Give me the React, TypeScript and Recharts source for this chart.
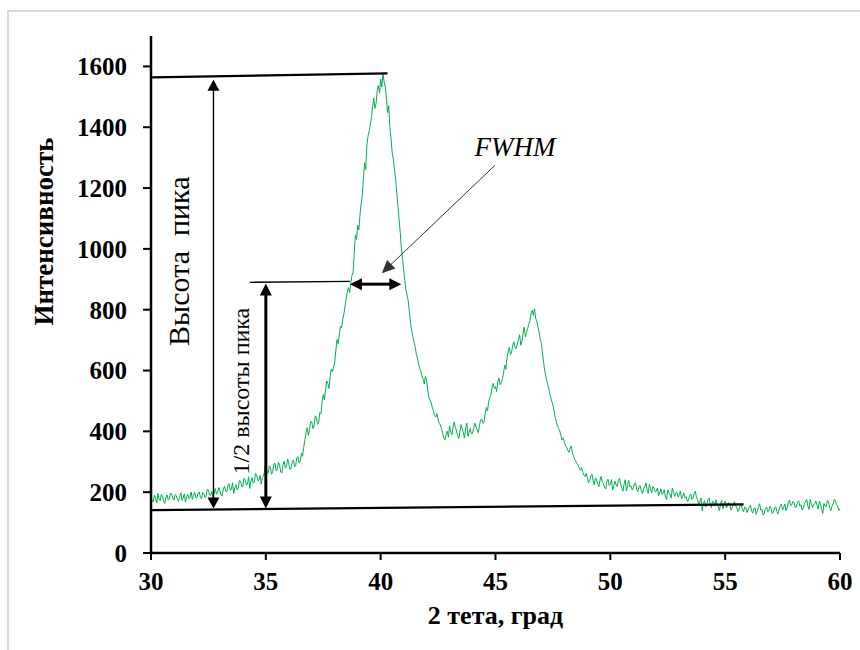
import { LineChart, Line, XAxis, YAxis, ReferenceLine } from 'recharts';

// 2θ grid of the scan (start / step in degrees)
const angleStart = 30;
const angleStep = 0.05;

// intensity, one value per 0.05 degree from 30 to 60
const intensity = [
  185, 172, 168, 190, 182, 165, 196, 178, 172, 193,
  188, 170, 163, 184, 191, 175, 178, 197, 194, 180,
  174, 192, 189, 176, 170, 186, 198, 173, 181, 195,
  167, 184, 193, 179, 184, 201, 176, 190, 199, 182,
  183, 196, 201, 185, 178, 199, 195, 182, 186, 209,
  207, 191, 190, 203, 181, 197, 212, 194, 196, 215,
  204, 190, 188, 211, 219, 203, 201, 222, 228, 206,
  209, 231, 196, 214, 224, 208, 213, 238, 236, 219,
  218, 246, 241, 224, 226, 251, 212, 236, 248, 229,
  233, 262, 257, 238, 239, 255, 226, 248, 252, 271,
  298, 268, 262, 287, 281, 259, 268, 293, 295, 270,
  274, 298, 289, 266, 263, 291, 302, 279, 285, 309,
  293, 274, 278, 301, 306, 283, 288, 314, 317, 296,
  301, 329, 318, 347, 372, 395, 412, 387, 405, 431,
  432, 409, 418, 451, 446, 423, 429, 462, 458, 497,
  521, 503, 537, 566, 558, 541, 579, 605, 596, 612,
  628, 667, 702, 688, 718, 746, 741, 769, 786, 812,
  838, 861, 872, 856, 889, 912, 924, 985, 1046, 1031,
  1078, 1062, 1112, 1148, 1176, 1232, 1283, 1261, 1341, 1372,
  1386, 1410, 1432, 1468, 1496, 1462, 1478, 1521, 1537, 1512,
  1558, 1532, 1576, 1549, 1532, 1496, 1448, 1471, 1402, 1364,
  1318, 1296, 1262, 1231, 1186, 1142, 1098, 1056, 1002, 968,
  931, 897, 864, 848, 829, 792, 758, 731, 712, 694,
  679, 655, 641, 622, 607, 598, 582, 571, 556, 581,
  568, 536, 512, 503, 493, 479, 468, 452, 447, 459,
  438, 426, 421, 407, 394, 378, 372, 389, 401, 381,
  418, 398, 389, 412, 431, 415, 402, 386, 376, 398,
  422, 409, 395, 378, 413, 427, 384, 396, 409, 392,
  393, 412, 427, 414, 405, 396, 418, 437, 441, 426,
  432, 458, 478, 467, 496, 512, 521, 543, 558, 541,
  547, 531, 562, 575, 553, 560, 571, 592, 618, 604,
  642, 661, 676, 652, 661, 683, 694, 676, 672, 688,
  701, 718, 683, 695, 722, 743, 711, 726, 738, 752,
  764, 789, 798, 781, 803, 771, 762, 742, 727, 702,
  688, 655, 624, 597, 576, 561, 548, 529, 512, 498,
  487, 466, 446, 431, 418, 409, 401, 386, 372, 379,
  364, 352, 348, 337, 331, 344, 352, 329, 318, 307,
  301, 294, 289, 278, 272, 281, 265, 256, 251, 262,
  248, 231, 236, 254, 259, 238, 224, 247, 241, 226,
  218, 239, 252, 233, 229, 214, 211, 236, 243, 222,
  226, 241, 208, 219, 237, 224, 219, 238, 246, 227,
  213, 203, 228, 241, 204, 221, 239, 218, 221, 207,
  214, 228, 231, 209, 202, 219, 222, 204, 195, 213,
  217, 231, 209, 196, 226, 211, 198, 219, 213, 201,
  203, 214, 188, 197, 211, 193, 196, 208, 183, 176,
  207, 198, 192, 181, 214, 201, 186, 197, 199, 184,
  191, 204, 178, 186, 198, 181, 185, 170, 172, 189,
  194, 176, 181, 195, 203, 184, 176, 159, 168, 181,
  138, 163, 172, 151, 158, 176, 181, 162, 149, 171,
  167, 154, 175, 161, 153, 139, 164, 172, 145, 158,
  171, 148, 156, 166, 162, 141, 148, 159, 169, 154,
  152, 137, 141, 156, 158, 144, 136, 151, 149, 133,
  143, 151, 157, 139, 131, 146, 148, 127, 139, 153,
  162, 141, 144, 125, 129, 147, 151, 136, 138, 154,
  147, 129, 135, 148, 152, 136, 128, 143, 156, 161,
  142, 150, 161, 139, 149, 166, 174, 155, 158, 170,
  166, 149, 151, 167, 172, 154, 159, 141, 147, 162,
  168, 176, 155, 143, 176, 163, 149, 158, 162, 171,
  157, 144, 171, 159, 144, 130, 163, 155, 152, 173,
  168, 149, 139, 154, 161, 177, 173, 158, 155, 140,
  146,
];

const xTicks = [30, 35, 40, 45, 50, 55, 60];
const yTicks = [0, 200, 400, 600, 800, 1000, 1200, 1400, 1600];

// annotation segments, in data units (2θ, intensity)
const peakLine = [{ x: 30.05, y: 1564 }, { x: 40.3, y: 1577 }];
const baseLine = [{ x: 30.05, y: 141 }, { x: 55.8, y: 160 }];
const heightArrow = [{ x: 32.72, y: 1556 }, { x: 32.72, y: 146 }];
const halfLine = [{ x: 34.3, y: 890 }, { x: 38.66, y: 893 }];
const halfArrow = [{ x: 35.0, y: 886 }, { x: 35.0, y: 146 }];
const fwhmArrow = [{ x: 38.66, y: 884 }, { x: 40.9, y: 884 }];
const fwhmPointer = [{ x: 44.98, y: 1275 }, { x: 40.05, y: 920 }];

const data = intensity.map((v, i) => ({
  angle: +(angleStart + i * angleStep).toFixed(2),
  intensity: v,
}));

const serif = "'Liberation Serif', 'Times New Roman', serif";

interface ArrowOpts {
  width: number;
  start?: boolean;
  end?: boolean;
  head?: number;
  half?: number;
  color?: string;
  text?: string;
  textSize?: number;
  textDx?: number;
  textDy?: number;
  textAngle?: number;
}

function head(tx: number, ty: number, ux: number, uy: number, len: number, half: number, color: string) {
  const bx = tx - ux * len;
  const by = ty - uy * len;
  const nx = -uy;
  const ny = ux;
  const pts = `${tx},${ty} ${bx + nx * half},${by + ny * half} ${bx - nx * half},${by - ny * half}`;
  return <polygon points={pts} fill={color} />;
}

// line between the two segment ends, with optional arrow heads and a side caption
function arrowShape(o: ArrowOpts) {
  return (props: any) => {
    const { x1, y1, x2, y2 } = props;
    const color = o.color || '#000';
    const len = o.head || 12;
    const half = o.half || 6;
    const dx = x2 - x1;
    const dy = y2 - y1;
    const d = Math.sqrt(dx * dx + dy * dy) || 1;
    const ux = dx / d;
    const uy = dy / d;
    const sx = o.start ? x1 + ux * (len - 1) : x1;
    const sy = o.start ? y1 + uy * (len - 1) : y1;
    const ex = o.end ? x2 - ux * (len - 1) : x2;
    const ey = o.end ? y2 - uy * (len - 1) : y2;
    const mx = (x1 + x2) / 2 + (o.textDx || 0);
    const my = (y1 + y2) / 2 + (o.textDy || 0);
    return (
      <g>
        <line x1={sx} y1={sy} x2={ex} y2={ey} stroke={color} strokeWidth={o.width} />
        {o.start && head(x1, y1, -ux, -uy, len, half, color)}
        {o.end && head(x2, y2, ux, uy, len, half, color)}
        {o.text && (
          <text
            x={mx}
            y={my}
            transform={o.textAngle ? `rotate(${o.textAngle} ${mx} ${my})` : undefined}
            textAnchor="middle"
            dominantBaseline="central"
            fontFamily={serif}
            fontSize={o.textSize || 22}
            fill="#000"
            style={{ whiteSpace: 'pre' }}
          >
            {o.text}
          </text>
        )}
      </g>
    );
  };
}

const YTitle = (props: any) => {
  const vb = props.viewBox || { x: 25, y: 36, width: 126, height: 517 };
  const cx = vb.x + 19;
  const cy = vb.y + vb.height / 2 - 63;
  return (
    <text
      x={cx}
      y={cy}
      transform={`rotate(-90 ${cx} ${cy})`}
      textAnchor="middle"
      dominantBaseline="central"
      fontFamily={serif}
      fontWeight="bold"
      fontSize={27}
      fill="#000"
    >
      Интенсивность
    </text>
  );
};

const XTitle = (props: any) => {
  const vb = props.viewBox || { x: 151, y: 553, width: 689, height: 60 };
  return (
    <text
      x={vb.x + vb.width / 2}
      y={vb.y + 71}
      textAnchor="middle"
      fontFamily={serif}
      fontWeight="bold"
      fontSize={26}
      fill="#000"
    >
      2 тета, град
    </text>
  );
};

const tickStyle = { fill: '#000', fontSize: 25, fontWeight: 'bold', fontFamily: serif };

export default function App() {
  return (
    <div style={{ position: 'absolute', left: 0, top: 0, width: 860, height: 650, background: '#fff', overflow: 'hidden' }}>
      <div
        style={{
          position: 'absolute',
          left: 7,
          top: 10,
          width: 900,
          height: 700,
          border: '2px solid #d9d9d9',
        }}
      />
      <div style={{ position: 'absolute', left: 0, top: 0 }}>
        <LineChart width={860} height={650} data={data} margin={{ top: 36, right: 20, bottom: 37, left: 25 }}>
          <XAxis
            dataKey="angle"
            type="number"
            domain={[30, 60]}
            ticks={xTicks}
            interval={0}
            allowDataOverflow
            height={60}
            stroke="#000"
            strokeWidth={2.5}
            tickSize={7}
            tickMargin={12}
            tick={tickStyle}
            tickLine={{ stroke: '#000', strokeWidth: 2 }}
            label={{ content: XTitle }}
          />
          <YAxis
            type="number"
            domain={[0, 1700]}
            ticks={yTicks}
            interval={0}
            allowDataOverflow
            width={126}
            stroke="#000"
            strokeWidth={2.5}
            tickSize={8}
            tickMargin={16}
            tick={tickStyle}
            tickLine={{ stroke: '#000', strokeWidth: 2 }}
            label={{ content: YTitle }}
          />
          <Line
            type="linear"
            dataKey="intensity"
            stroke="#00b050"
            strokeWidth={1}
            dot={false}
            activeDot={false}
            isAnimationActive={false}
          />
          <ReferenceLine segment={peakLine} shape={arrowShape({ width: 2.2 })} />
          <ReferenceLine segment={baseLine} shape={arrowShape({ width: 2.2 })} />
          <ReferenceLine
            segment={heightArrow}
            shape={arrowShape({
              width: 1.4,
              start: true,
              end: true,
              head: 11,
              half: 6,
              text: 'Высота\u00a0 пика',
              textSize: 30,
              textDx: -35,
              textDy: -33,
              textAngle: -90,
            })}
          />
          <ReferenceLine segment={halfLine} shape={arrowShape({ width: 1.4 })} />
          <ReferenceLine
            segment={halfArrow}
            shape={arrowShape({
              width: 3,
              start: true,
              end: true,
              head: 12,
              half: 6,
              text: '1/2 высоты пика',
              textSize: 24,
              textDx: -25,
              textDy: -5,
              textAngle: -90,
            })}
          />
          <ReferenceLine
            segment={fwhmArrow}
            shape={arrowShape({ width: 3, start: true, end: true, head: 12, half: 6 })}
          />
          <ReferenceLine
            segment={fwhmPointer}
            shape={(props: any) => {
              const base = arrowShape({ width: 1, end: true, head: 13, half: 6, color: '#333' })(props);
              return (
                <g>
                  {base}
                  <text
                    x={props.x1 + 20}
                    y={props.y1 - 9}
                    textAnchor="middle"
                    fontFamily={serif}
                    fontStyle="italic"
                    fontSize={27}
                    fill="#000"
                  >
                    FWHM
                  </text>
                </g>
              );
            }}
          />
        </LineChart>
      </div>
    </div>
  );
}
